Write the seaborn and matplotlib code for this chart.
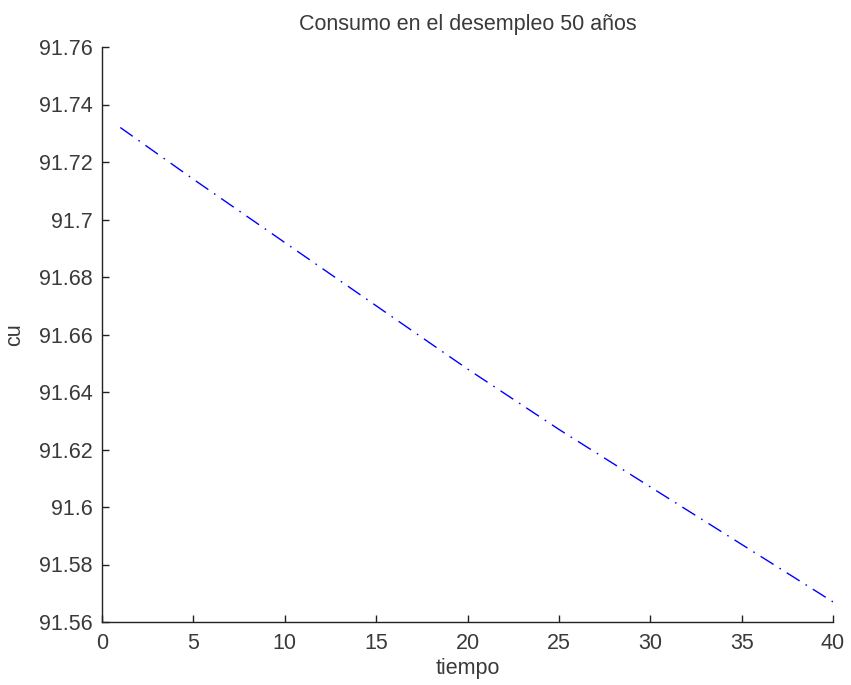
import pandas as pd
import matplotlib
matplotlib.use("Agg")
import matplotlib.pyplot as plt
import seaborn as sns

# values
tiempo = [1, 5, 10, 15, 20, 25, 30, 35, 40]
cu = [91.732, 91.714, 91.692, 91.670, 91.648, 91.627, 91.607, 91.587, 91.567]

df = pd.DataFrame({"tiempo": tiempo, "cu": cu})

sns.set_style("ticks")
plt.rcParams["font.family"] = ["Liberation Sans", "DejaVu Sans"]

fig = plt.figure(figsize=(8.51, 6.85), dpi=100)
ax = fig.add_axes([102 / 851, 1 - 622 / 685, (833 - 102) / 851, (622 - 47) / 685])

sns.lineplot(data=df, x="tiempo", y="cu", ax=ax, color="#0000ff",
             linewidth=1.0, dashes=False)
ax.lines[0].set_dashes((11, 5, 1.2, 5))

ax.set_xlim(0, 40)
ax.set_ylim(91.56, 91.76)
ax.set_xticks(range(0, 41, 5))
yt = [91.56 + 0.02 * i for i in range(11)]
ax.set_yticks(yt)
ax.set_yticklabels([f"{v:.2f}".rstrip("0").rstrip(".") for v in yt])

sns.despine(ax=ax)
for s in ["left", "bottom"]:
    ax.spines[s].set_linewidth(1.0)
    ax.spines[s].set_color("#222222")
ax.tick_params(direction="in", length=5, width=1.0, labelsize=15.5,
               colors="#222222", labelcolor="#3a3a3a")
ax.tick_params(axis="x", pad=8)
ax.tick_params(axis="y", pad=7)

ax.set_xlabel("tiempo", fontsize=15.5, color="#3a3a3a", labelpad=3)
ax.set_ylabel("cu", fontsize=15.5, color="#3a3a3a", labelpad=10)
ax.set_title("Consumo en el desempleo 50 años", fontsize=15.5,
             color="#3a3a3a", pad=12)

fig.savefig("out.png", dpi=100)
